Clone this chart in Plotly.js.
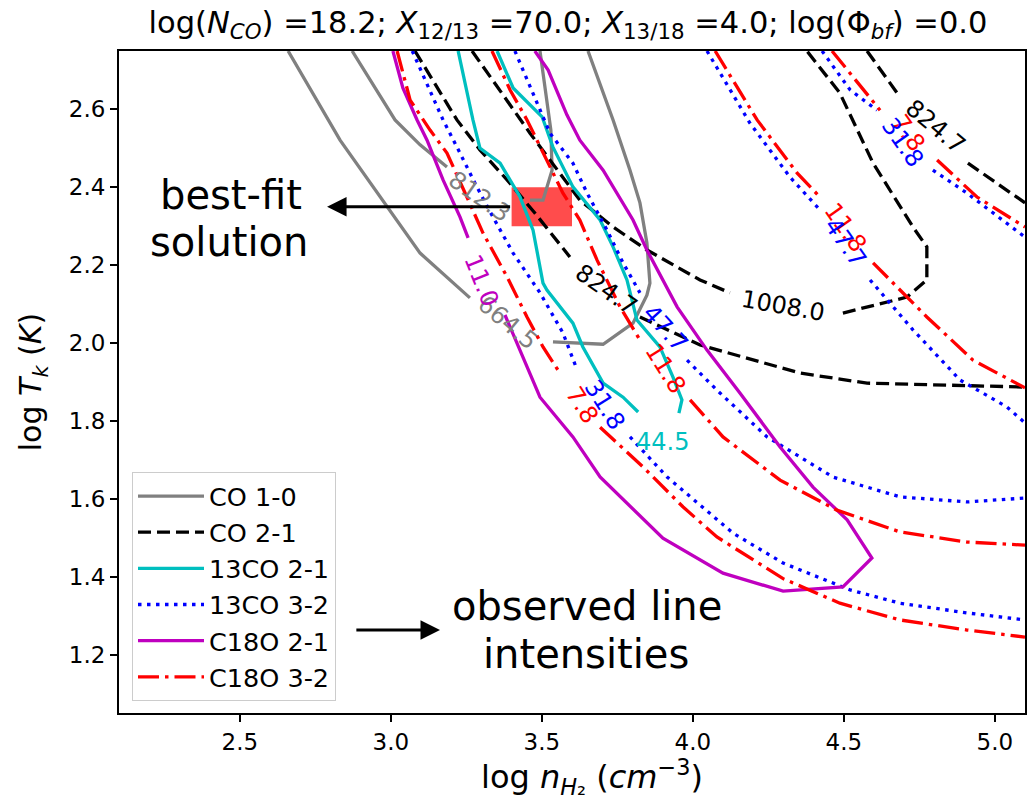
<!DOCTYPE html>
<html>
<head>
<meta charset="utf-8">
<script src="https://cdn.plot.ly/plotly-3.0.1.min.js"></script>
<style>html,body{margin:0;padding:0;background:#fff;}</style>
</head>
<body>
<div id="chart" style="width:1028px;height:802px;"></div>
<script>
// ---------- DATA (log n_H2 [cm^-3], log T_k [K]); null separates contour pieces ----------
const nH2_CO10 = [2.660,2.832,3.097,3.262,null,3.537,3.703,3.802,3.848,3.858,3.848,3.825,3.792,3.736,3.653,null,
                  2.872,2.908,3.014,3.097,3.186,null,3.461,3.504,3.534,3.530,3.494];
const Tk_CO10  = [2.750,2.521,2.231,2.116,null,2.003,1.997,2.051,2.123,2.154,2.257,2.360,2.444,2.573,2.750,null,
                  2.750,2.706,2.573,2.509,2.452,null,2.367,2.367,2.444,2.547,2.750];

const nH2_CO21 = [3.080,3.219,3.295,3.385,3.477,3.593,null,3.825,4.024,4.355,4.577,5.100,null,
                  3.269,3.461,3.626,3.736,3.848,4.024,4.123,null,4.497,4.709,4.775,4.775,4.729,4.597,4.487,4.378,null,
                  4.577,4.686,null,4.911,5.100];
const Tk_CO21  = [2.750,2.573,2.496,2.419,2.334,2.221,null,2.067,1.995,1.923,1.897,1.887,null,
                  2.750,2.539,2.367,2.298,2.239,2.162,2.129,null,2.077,2.118,2.162,2.247,2.298,2.462,2.642,2.750,null,
                  2.750,2.632,null,2.462,2.360];

const nH2_13CO21 = [3.223,3.272,3.295,3.362,3.428,3.471,3.504,3.517,3.603,3.636,3.703,3.769,3.819,null,
                    3.352,3.405,3.501,3.537,3.603,3.693,3.736,3.782,3.815,3.891,3.934,3.964,3.954];
const Tk_13CO21  = [2.750,2.573,2.501,2.462,2.375,2.290,2.154,2.136,2.051,1.990,1.897,1.861,1.823,null,
                    2.750,2.655,2.581,2.503,2.401,2.316,2.247,2.162,2.059,1.990,1.913,1.854,1.820];

const nH2_13CO32 = [3.071,3.173,3.229,3.285,3.338,3.405,3.494,3.570,3.617,null,3.792,3.915,4.133,4.299,4.521,4.686,4.908,5.100,null,
                    3.411,3.527,3.603,3.650,3.716,3.769,3.825,null,3.981,4.080,4.246,4.464,4.686,4.908,5.100,null,
                    4.047,4.189,4.322,4.421,null,4.587,4.729,4.885,5.040,5.100,null,
                    4.428,4.521,4.610,null,4.795,4.908,5.100];
const Tk_13CO32  = [2.750,2.573,2.488,2.401,2.324,2.231,2.129,2.026,1.931,null,1.759,1.656,1.512,1.435,1.366,1.332,1.307,1.289,null,
                    2.750,2.539,2.462,2.385,2.290,2.206,2.129,null,1.956,1.879,1.759,1.656,1.605,1.592,1.602,null,
                    2.750,2.565,2.426,2.342,null,2.162,2.034,1.905,1.836,1.795,null,
                    2.750,2.650,2.598,null,2.444,2.385,2.272];

const nH2_C18O21 = [3.007,3.040,3.087,3.120,3.173,3.229,3.256,null,3.378,3.451,3.494,3.603,3.693,3.901,4.100,4.299,4.497,4.593,
                    4.511,4.398,4.289,4.156,4.047,3.948,3.848,3.802,3.703,3.626,3.583,3.521,3.477];
const Tk_C18O21  = [2.750,2.655,2.573,2.521,2.419,2.324,2.270,null,2.072,1.939,1.861,1.759,1.656,1.499,1.409,1.363,1.374,1.448,
                    1.546,1.630,1.733,1.872,1.982,2.093,2.239,2.316,2.444,2.521,2.586,2.701,2.750];

const nH2_C18O32 = [3.021,3.064,3.130,3.186,3.252,3.305,3.385,3.451,3.504,3.560,null,3.693,3.835,3.968,4.080,4.299,4.487,4.686,4.908,5.100,null,
                    3.335,3.395,3.451,3.504,3.570,3.626,3.683,3.759,3.825,null,3.991,4.100,4.289,4.477,4.686,4.908,5.100,null,
                    4.074,4.213,4.345,4.421,null,4.597,4.775,4.928,5.100,null,
                    4.461,4.477,4.620,null,4.809,4.941,5.100];
const Tk_C18O32  = [2.750,2.624,2.547,2.488,2.375,2.283,2.170,2.067,1.990,1.923,null,1.784,1.682,1.579,1.502,1.395,1.332,1.289,1.263,1.245,null,
                    2.750,2.650,2.573,2.488,2.385,2.316,2.213,2.093,2.008,null,1.854,1.759,1.648,1.571,1.515,1.489,1.481,null,
                    2.750,2.573,2.437,2.375,null,2.206,2.067,1.956,1.885,null,
                    2.750,2.735,2.598,null,2.470,2.375,2.298];

// contour level labels
const labelText  = ['812.3','664.5','11.0','824.7','1008.0','824.7','47.7','11.8','31.8','7.8','44.5','11.8','47.7','7.8','31.8'];
const labelSeries= ['CO10','CO10','C18O21','CO21','CO21','CO21','13CO32','C18O32','13CO32','C18O32','13CO21','C18O32','13CO32','C18O32','13CO32'];
const labelN     = [3.295,3.388,3.299,3.715,4.299,4.805,3.908,3.908,3.709,3.633,3.898,4.504,4.504,4.713,4.693];
const labelT     = [2.375,2.051,2.162,2.137,2.095,2.555,2.039,1.936,1.841,1.841,1.746,2.298,2.260,2.539,2.516];
const labelAngle = [35,40,68,35,10,40,48,58,58,58,0,55,55,55,55];

// best-fit solution (log n_H2 range, log T_k range)
const bestfit_n = [3.4, 3.6];
const bestfit_T = [2.3, 2.4];

const seriesNames = ['CO 1-0','CO 2-1','13CO 2-1','13CO 3-2','C18O 2-1','C18O 3-2'];
const seriesKeys  = ['CO10','CO21','13CO21','13CO32','C18O21','C18O32'];

// ---------- STYLE ----------
const styles = {
  'CO10':   {color:'#808080', dash:'solid'},
  'CO21':   {color:'#000000', dash:'13px,6px'},
  '13CO21': {color:'#00bfbf', dash:'solid'},
  '13CO32': {color:'#0000ff', dash:'3.5px,5.5px'},
  'C18O21': {color:'#bf00bf', dash:'solid'},
  'C18O32': {color:'#ff0000', dash:'21px,6px,3.5px,6px'}
};
const xs = {'CO10':nH2_CO10,'CO21':nH2_CO21,'13CO21':nH2_13CO21,'13CO32':nH2_13CO32,'C18O21':nH2_C18O21,'C18O32':nH2_C18O32};
const ys = {'CO10':Tk_CO10,'CO21':Tk_CO21,'13CO21':Tk_13CO21,'13CO32':Tk_13CO32,'C18O21':Tk_C18O21,'C18O32':Tk_C18O32};

const traces = seriesKeys.map((k,i)=>({
  type:'scatter', mode:'lines', name:seriesNames[i],
  x:xs[k], y:ys[k], connectgaps:false,
  line:{color:styles[k].color, dash:styles[k].dash, width:3.3}
}));

const annotations = labelText.map((t,i)=>({
  x:labelN[i], y:labelT[i], xref:'x', yref:'y', text:t, showarrow:false,
  textangle:labelAngle[i], xanchor:'center', yanchor:'middle',
  font:{family:'DejaVu Sans', size:24, color:styles[labelSeries[i]].color}
}));

const annFont = {family:'DejaVu Sans', size:40, color:'black'};
annotations.push(
  {x:2.471, y:2.380, xref:'x', yref:'y', text:'best-fit', showarrow:false, font:annFont},
  {x:2.464, y:2.259, xref:'x', yref:'y', text:'solution', showarrow:false, font:annFont},
  {x:3.650, y:1.326, xref:'x', yref:'y', text:'observed line', showarrow:false, font:annFont},
  {x:3.647, y:1.202, xref:'x', yref:'y', text:'intensities', showarrow:false, font:annFont},
  {x:2.789, y:(bestfit_T[0]+bestfit_T[1])/2, ax:bestfit_n[0], ay:(bestfit_T[0]+bestfit_T[1])/2,
   xref:'x', yref:'y', axref:'x', ayref:'y', text:'', showarrow:true, arrowhead:2, arrowsize:1.3, arrowwidth:3, arrowcolor:'black', standoff:0},
  {x:3.163, y:1.263, ax:2.881, ay:1.263,
   xref:'x', yref:'y', axref:'x', ayref:'y', text:'', showarrow:true, arrowhead:2, arrowsize:1.3, arrowwidth:3, arrowcolor:'black', standoff:0},
  {x:(592-119)/906, y:(713-777)/662, xref:'paper', yref:'paper', xanchor:'center', yanchor:'middle', showarrow:false,
   text:'log <i>n</i><sub><i>H</i>₂</sub> (<i>cm</i><sup>−3</sup>)', font:{family:'DejaVu Sans', size:32, color:'black'}}
);

const tickFont = {family:'DejaVu Sans', size:23, color:'black'};
const layout = {
  width:1028, height:802,
  margin:{l:119, r:3, t:51, b:89},
  paper_bgcolor:'white', plot_bgcolor:'white',
  title:{text:'log(<i>N</i><sub><i>CO</i></sub>) =18.2; <i>X</i><sub>12/13</sub> =70.0; <i>X</i><sub>13/18</sub> =4.0; log(Φ<sub><i>bf</i></sub>) =0.0',
         font:{family:'DejaVu Sans', size:30.5, color:'black'}, x:568/1028, xref:'container', xanchor:'center',
         y:1-22/802, yref:'container', yanchor:'middle'},
  xaxis:{range:[2.1,5.1], tickvals:[2.5,3.0,3.5,4.0,4.5,5.0], tickformat:'.1f', ticks:'outside', ticklen:7, tickwidth:2,
         tickcolor:'black', showline:true, linecolor:'black', linewidth:2, mirror:true, showgrid:false, zeroline:false,
         tickfont:tickFont, title:{text:''}},
  yaxis:{range:[1.05,2.75], tickvals:[1.2,1.4,1.6,1.8,2.0,2.2,2.4,2.6], tickformat:'.1f', ticks:'outside', ticklen:7, tickwidth:2,
         tickcolor:'black', showline:true, linecolor:'black', linewidth:2, mirror:true, showgrid:false, zeroline:false,
         tickfont:tickFont,
         title:{text:'log <i>T</i><sub><i>k</i></sub> (<i>K</i>)', font:{family:'DejaVu Sans', size:30, color:'black'}, standoff:18}},
  showlegend:true,
  legend:{x:(132-119)/906, y:(713-472)/662, xanchor:'left', yanchor:'top', bgcolor:'white', bordercolor:'#cccccc', borderwidth:1,
          font:{family:'DejaVu Sans', size:25.5, color:'black'}, itemwidth:66, tracegroupgap:0},
  shapes:[{type:'rect', xref:'x', yref:'y', x0:bestfit_n[0], x1:bestfit_n[1], y0:bestfit_T[0], y1:bestfit_T[1],
           fillcolor:'rgba(255,0,0,0.7)', line:{width:0}, layer:'below'}],
  annotations:annotations
};

Plotly.newPlot('chart', traces, layout, {displayModeBar:false, staticPlot:true});
</script>
</body>
</html>
